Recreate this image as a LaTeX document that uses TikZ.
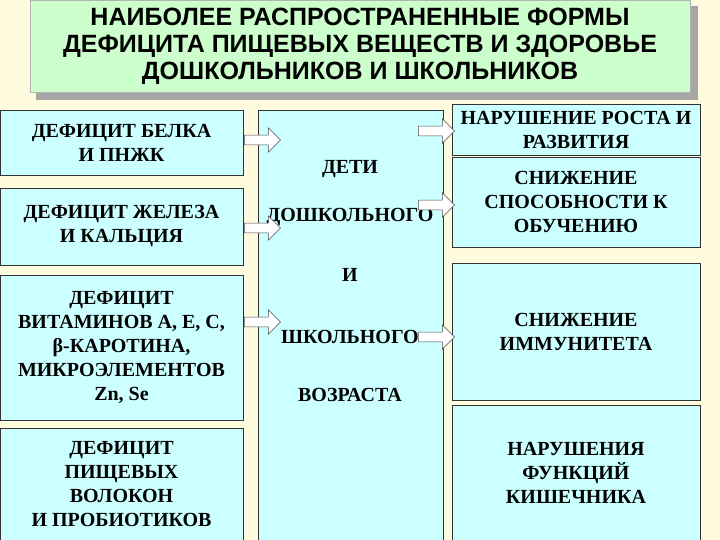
\documentclass[tikz,border=0pt]{standalone}
\usepackage{fontspec}
\setmainfont{Liberation Serif}
\newfontfamily\arialf{Liberation Sans}
\usetikzlibrary{shapes.arrows}
\definecolor{bgc}{HTML}{FFFBDF}
\definecolor{boxc}{HTML}{CCFFFF}
\definecolor{titc}{HTML}{CCFFCC}
\begin{document}
\begin{tikzpicture}[x=1pt,y=-1pt,
 bx/.style={draw=black!80,fill=boxc,line width=0.8pt,align=center,font=\bfseries\fontsize{20}{24}\selectfont},
 ct/.style={font=\bfseries\fontsize{20}{24}\selectfont},
 ar/.style={single arrow,draw=black!70,fill=white,minimum height=36pt,minimum width=24pt,inner sep=4.5pt,line width=0.5pt}]
\fill[bgc] (0,0) rectangle (720,540);
\useasboundingbox (0,0) rectangle (720,540);
\fill[gray!70] (36,6) rectangle (698,100);
\node[fill=titc,draw=gray!60,minimum width=660pt,minimum height=92pt,align=center,
 font=\arialf\bfseries\fontsize{25}{27}\selectfont] (t) at (360,46)
 {НАИБОЛЕЕ РАСПРОСТРАНЕННЫЕ ФОРМЫ\\ДЕФИЦИТА ПИЩЕВЫХ ВЕЩЕСТВ И ЗДОРОВЬЕ\\ДОШКОЛЬНИКОВ И ШКОЛЬНИКОВ};
\node[bx,minimum width=243pt,minimum height=65pt] (l1) at (121.5,142.5) {ДЕФИЦИТ БЕЛКА\\И ПНЖК};
\node[bx,minimum width=243pt,minimum height=77pt] (l2) at (121.5,226.5) {ДЕФИЦИТ ЖЕЛЕЗА\\И КАЛЬЦИЯ};
\node[bx,minimum width=243pt,minimum height=145pt] (l3) at (121.5,347.5) {ДЕФИЦИТ\\ВИТАМИНОВ А, Е, С,\\β-КАРОТИНА,\\МИКРОЭЛЕМЕНТОВ\\Zn, Se};
\node[bx,minimum width=243pt,minimum height=112pt] (l4) at (121.5,484) {ДЕФИЦИТ\\ПИЩЕВЫХ\\ВОЛОКОН\\И ПРОБИОТИКОВ};
\node[bx,minimum width=185pt,minimum height=432pt] (c) at (350.5,326) {};
\node[ct] (c1) at (350,169) {ДЕТИ};
\node[ct] (c2) at (350,217) {ДОШКОЛЬНОГО};
\node[ct] (c3) at (350,275) {И};
\node[ct] (c4) at (350,337) {ШКОЛЬНОГО};
\node[ct] (c5) at (350,395) {ВОЗРАСТА};
\node[bx,minimum width=248pt,minimum height=51pt] (r1) at (576,129.5) {НАРУШЕНИЕ РОСТА И\\РАЗВИТИЯ};
\node[bx,minimum width=248pt,minimum height=90pt] (r2) at (576,202) {СНИЖЕНИЕ\\СПОСОБНОСТИ К\\ОБУЧЕНИЮ};
\node[bx,minimum width=248pt,minimum height=137pt] (r3) at (576,331.5) {СНИЖЕНИЕ\\ИММУНИТЕТА};
\node[bx,minimum width=248pt,minimum height=135pt] (r4) at (576,472.5) {НАРУШЕНИЯ\\ФУНКЦИЙ\\КИШЕЧНИКА};
\node[ar] (a1) at (260,140) {};
\node[ar] (a2) at (260,228) {};
\node[ar] (a3) at (260,322) {};
\node[ar] (a4) at (434,131) {};
\node[ar] (a5) at (434,205) {};
\node[ar] (a6) at (434,337) {};
\end{tikzpicture}
\end{document}
